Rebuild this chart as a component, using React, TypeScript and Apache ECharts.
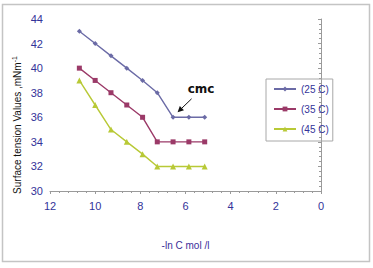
import React, { useEffect, useRef } from "react";
import * as echarts from "echarts";

const xValues = [10.7, 10.0, 9.3, 8.6, 7.9, 7.25, 6.55, 5.85, 5.15];
const series25 = [43, 42, 41, 40, 39, 38, 36, 36, 36];
const series35 = [40, 39, 38, 37, 36, 34, 34, 34, 34];
const series45 = [39, 37, 35, 34, 33, 32, 32, 32, 32];
const seriesNames = ["(25 C)", "(35 C)", "(45 C)"];
const cmcPoint = [6.55, 36];

const FONT = "Liberation Sans, Arial, sans-serif";
const NAVY = "#333399";

export default function App() {
  const ref = useRef<HTMLDivElement>(null);
  useEffect(() => {
    if (!ref.current) return;
    const chart = echarts.init(ref.current, null, { renderer: "svg" });
    const pair = (ys: number[]) => xValues.map((x, i) => [x, ys[i]]);
    const colors = ["#6B6BA6", "#9B3A68", "#B8C936"];
    const symbols = ["diamond", "rect", "triangle"];
    const sizes = [5, 5, 6];
    const data = [series25, series35, series45];
    chart.setOption({
      animation: false,
      textStyle: { fontFamily: FONT },
      grid: { left: 50, right: 52, top: 19, bottom: 77 },
      legend: {
        orient: "vertical",
        left: 266,
        top: 79,
        padding: [5, 4, 7, 7],
        itemGap: 10,
        itemWidth: 22,
        itemHeight: 6,
        borderColor: "#A8A8A8",
        borderWidth: 1,
        textStyle: { color: NAVY, fontSize: 10, fontFamily: FONT },
        data: seriesNames,
      },
      xAxis: {
        type: "value",
        min: 0,
        max: 12,
        interval: 2,
        inverse: true,
        name: "-ln C mol /l",
        nameLocation: "middle",
        nameGap: 49,
        nameTextStyle: { color: "#3A2E99", fontSize: 10, fontFamily: FONT },
        axisLine: { show: true, lineStyle: { color: "#9A9A9A" } },
        axisTick: { show: true, length: 3, lineStyle: { color: "#9A9A9A" } },
        minorTick: { show: true, splitNumber: 5, length: 2, lineStyle: { color: "#9A9A9A" } },
        splitLine: { show: false },
        axisLabel: { color: NAVY, fontSize: 11, margin: 9, fontFamily: FONT },
      },
      yAxis: {
        type: "value",
        min: 30,
        max: 44,
        interval: 2,
        axisLine: { show: true, lineStyle: { color: "#9A9A9A" } },
        axisTick: { show: true, length: 3, lineStyle: { color: "#9A9A9A" } },
        minorTick: { show: true, splitNumber: 5, length: 2, lineStyle: { color: "#9A9A9A" } },
        splitLine: { show: false },
        axisLabel: { color: NAVY, fontSize: 11, margin: 7, fontFamily: FONT },
      },
      series: data.map((ys, i) => ({
        name: seriesNames[i],
        type: "line",
        data: pair(ys),
        symbol: symbols[i],
        symbolSize: sizes[i],
        color: colors[i],
        lineStyle: { width: 1.4, color: colors[i] },
        itemStyle: { color: colors[i] },
      })),
    });

    const p = chart.convertToPixel({ gridIndex: 0 }, cmcPoint) as number[];
    const tip = [p[0] + 4.5, p[1] - 5];
    const tail = [p[0] + 18.5, p[1] - 18.5];
    const ang = Math.atan2(tip[1] - tail[1], tip[0] - tail[0]);
    const hl = 6, hw = 3;
    const bx = tip[0] - hl * Math.cos(ang);
    const by = tip[1] - hl * Math.sin(ang);
    const head = [
      [tip[0], tip[1]],
      [bx + hw * Math.sin(ang), by - hw * Math.cos(ang)],
      [bx - hw * Math.sin(ang), by + hw * Math.cos(ang)],
    ];
    chart.setOption({
      graphic: [
        {
          type: "rect",
          shape: { x: 2.5, y: 4.5, width: 367, height: 257 },
          style: { fill: "none", stroke: "#C4C4C4", lineWidth: 1.5 },
          silent: true,
        },
        {
          type: "text",
          x: 17,
          y: 125,
          rotation: Math.PI / 2,
          style: {
            text: "Surface tension Values ,mNm{sup|-1}",
            fill: "#111",
            fontSize: 10,
            fontFamily: FONT,
            align: "center",
            verticalAlign: "middle",
            rich: { sup: { fontSize: 7, verticalAlign: "top", fill: "#111", fontFamily: FONT, padding: [0, 0, 5, 0] } },
          },
        },
        {
          type: "text",
          x: p[0] + 28,
          y: p[1] - 28,
          style: {
            text: "cmc",
            fill: "#111",
            fontSize: 12,
            fontWeight: "bold",
            fontFamily: "DejaVu Sans, sans-serif",
            align: "center",
            verticalAlign: "middle",
          },
        },
        {
          type: "line",
          shape: { x1: tail[0], y1: tail[1], x2: bx, y2: by },
          style: { stroke: "#111", lineWidth: 1 },
        },
        {
          type: "polygon",
          shape: { points: head },
          style: { fill: "#111" },
        },
      ],
    });
    return () => chart.dispose();
  }, []);
  return (
    <div
      ref={ref}
      style={{ position: "fixed", left: 0, top: 0, width: 373, height: 268, background: "#fff" }}
    />
  );
}
